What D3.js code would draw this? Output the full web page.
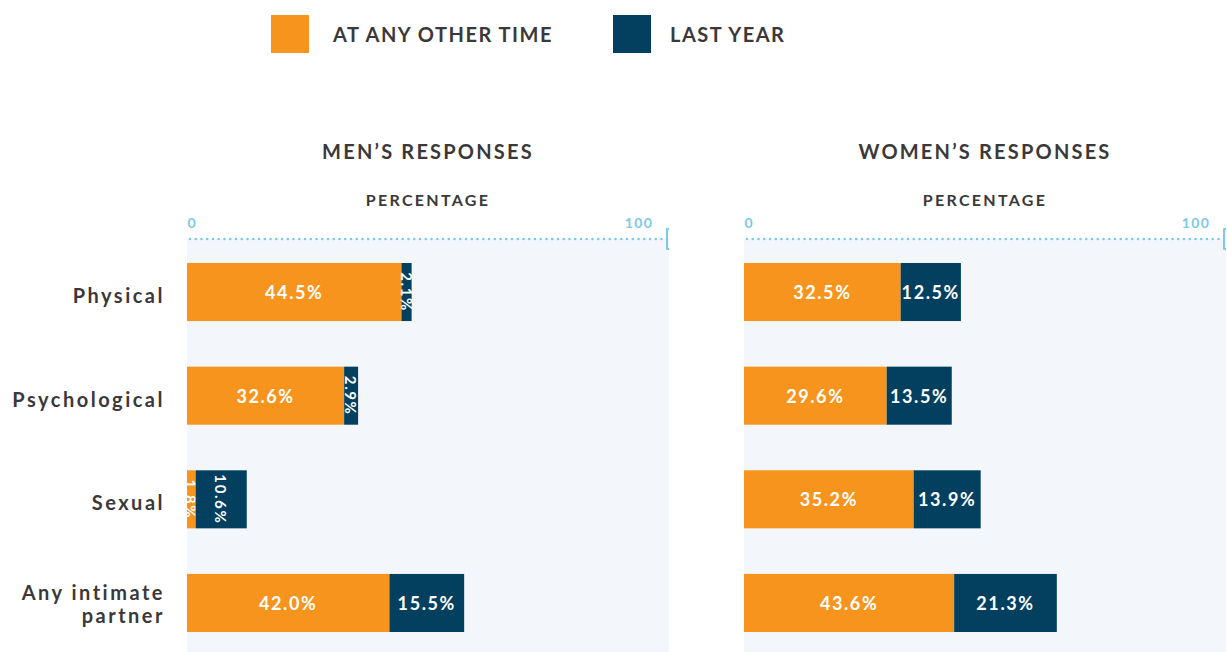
<!DOCTYPE html>
<html>
<head>
<meta charset="utf-8">
<script src="https://cdn.jsdelivr.net/npm/d3@7"></script>
<style>
body { margin: 0; background: #fff; }
text { font-family: Lato, "Open Sans", sans-serif; }
.dark { fill: #3b3839; font-weight: 700; }
.tick text { fill: #7ec8e8; font-size: 14px; letter-spacing: 1.5px; font-weight: 700; }
</style>
</head>
<body>
<div id="chart"></div>
<script>
// categories and values
const categories = ["Physical", "Psychological", "Sexual", "Any intimate partner"];
const menOther = [44.5, 32.6, 1.8, 42.0];
const menLast = [2.1, 2.9, 10.6, 15.5];
const womenOther = [32.5, 29.6, 35.2, 43.6];
const womenLast = [12.5, 13.5, 13.9, 21.3];
const seriesNames = ["AT ANY OTHER TIME", "LAST YEAR"];
const panelTitles = ["MEN\u2019S RESPONSES", "WOMEN\u2019S RESPONSES"];
const axisTicks = [0, 100];

const W = 1227, H = 652;
const ORANGE = "#f7941d", NAVY = "#03405f";
const colors = [ORANGE, NAVY];

const svg = d3.select("#chart").append("svg")
    .attr("width", W)
    .attr("height", H);

// legend
const legend = svg.append("g");
const legendX = [271, 613];
const legendTextDx = [62, 57];
seriesNames.forEach((name, i) => {
    legend.append("rect")
        .attr("x", legendX[i]).attr("y", 15)
        .attr("width", 38).attr("height", 38)
        .attr("fill", colors[i]);
    legend.append("text")
        .attr("class", "dark")
        .attr("x", legendX[i] + legendTextDx[i]).attr("y", 42)
        .attr("font-size", 20)
        .attr("letter-spacing", 1.5)
        .text(name);
});

const y = d3.scaleBand()
    .domain(categories)
    .range([263, 632])
    .paddingInner(0.44)
    .paddingOuter(0);

const panels = [
    { title: panelTitles[0], other: menOther, last: menLast, x0: 187, labels: true },
    { title: panelTitles[1], other: womenOther, last: womenLast, x0: 744, labels: false }
];

panels.forEach(p => {
    const x = d3.scaleLinear().domain([0, 100]).range([p.x0, p.x0 + 482]);
    const g = svg.append("g");
    const cx = (x(0) + x(100)) / 2;

    // light background
    g.append("rect")
        .attr("x", x(0)).attr("y", 239)
        .attr("width", x(100) - x(0)).attr("height", H - 239)
        .attr("fill", "#f3f6fb");

    g.append("text")
        .attr("class", "dark")
        .attr("x", cx).attr("y", 159)
        .attr("text-anchor", "middle")
        .attr("font-size", 20)
        .attr("letter-spacing", 2.2)
        .text(p.title);

    g.append("text")
        .attr("class", "dark")
        .attr("x", cx).attr("y", 206)
        .attr("text-anchor", "middle")
        .attr("font-size", 16)
        .attr("letter-spacing", 2.3)
        .text("PERCENTAGE");

    // axis on top, dotted domain
    const ax = g.append("g")
        .attr("transform", "translate(0,239)")
        .call(d3.axisTop(x).tickValues(axisTicks).tickSize(0).tickSizeOuter(0).tickPadding(11));
    ax.select(".domain")
        .attr("stroke", "#7ec8e8")
        .attr("stroke-width", 2.6)
        .attr("stroke-linecap", "round")
        .attr("stroke-dasharray", "0,5.75")
        .attr("d", `M${x(0) + 3},0H${x(100) - 3}`);
    ax.selectAll(".tick text")
        .attr("text-anchor", d => d === 0 ? "start" : "end")
        .attr("dx", d => d === 0 ? 0 : -16)
        .attr("font-family", null);
    ax.append("path")
        .attr("d", `M${x(100)},-10H${x(100) - 2}V10H${x(100)}`)
        .attr("fill", "none")
        .attr("stroke", "#7ec8e8")
        .attr("stroke-width", 2)
        .attr("stroke-linejoin", "round");

    // stacked bars
    const rows = categories.map((c, i) => ({ cat: c, segs: [
        { v: p.other[i], start: 0, color: ORANGE },
        { v: p.last[i], start: p.other[i], color: NAVY }
    ]}));

    const rowG = g.selectAll(".row").data(rows).enter().append("g");
    const segs = rowG.selectAll(".seg")
        .data(r => r.segs.map(s => Object.assign({ cat: r.cat }, s)))
        .enter().append("g");

    segs.append("rect")
        .attr("x", d => x(d.start))
        .attr("y", d => y(d.cat))
        .attr("width", d => x(d.start + d.v) - x(d.start))
        .attr("height", y.bandwidth())
        .attr("fill", d => d.color);

    segs.each(function (d) {
        const w = x(d.start + d.v) - x(d.start);
        const mx = x(d.start) + w / 2;
        const my = y(d.cat) + y.bandwidth() / 2;
        const t = d3.select(this).append("text")
            .attr("fill", "#fff")
            .attr("font-weight", 700)
            .attr("text-anchor", "middle")
            .attr("dominant-baseline", "central")
            .attr("letter-spacing", 1.6)
            .text(d.v.toFixed(1) + "%");
        if (w < 60) {
            t.attr("font-size", 15)
                .attr("transform", `translate(${mx},${my}) rotate(90)`);
        } else {
            t.attr("font-size", 18)
                .attr("x", mx).attr("y", my);
        }
    });

    if (p.labels) {
        const lab = g.selectAll(".cat").data(categories).enter().append("text")
            .attr("class", "dark")
            .attr("text-anchor", "end")
            .attr("font-size", 20)
            .attr("letter-spacing", 2.5);
        lab.each(function (c) {
            const t = d3.select(this);
            const words = c.split(" ");
            const lines = words.length > 2 ? [words.slice(0, 2).join(" "), words.slice(2).join(" ")] : [c];
            const my = y(c) + y.bandwidth() / 2;
            lines.forEach((ln, k) => {
                t.append("tspan")
                    .attr("x", x(0) - 22)
                    .attr("y", lines.length > 1 ? my - 3 + k * 23 : my + 11)
                    .text(ln);
            });
        });
    }
});
</script>
</body>
</html>
